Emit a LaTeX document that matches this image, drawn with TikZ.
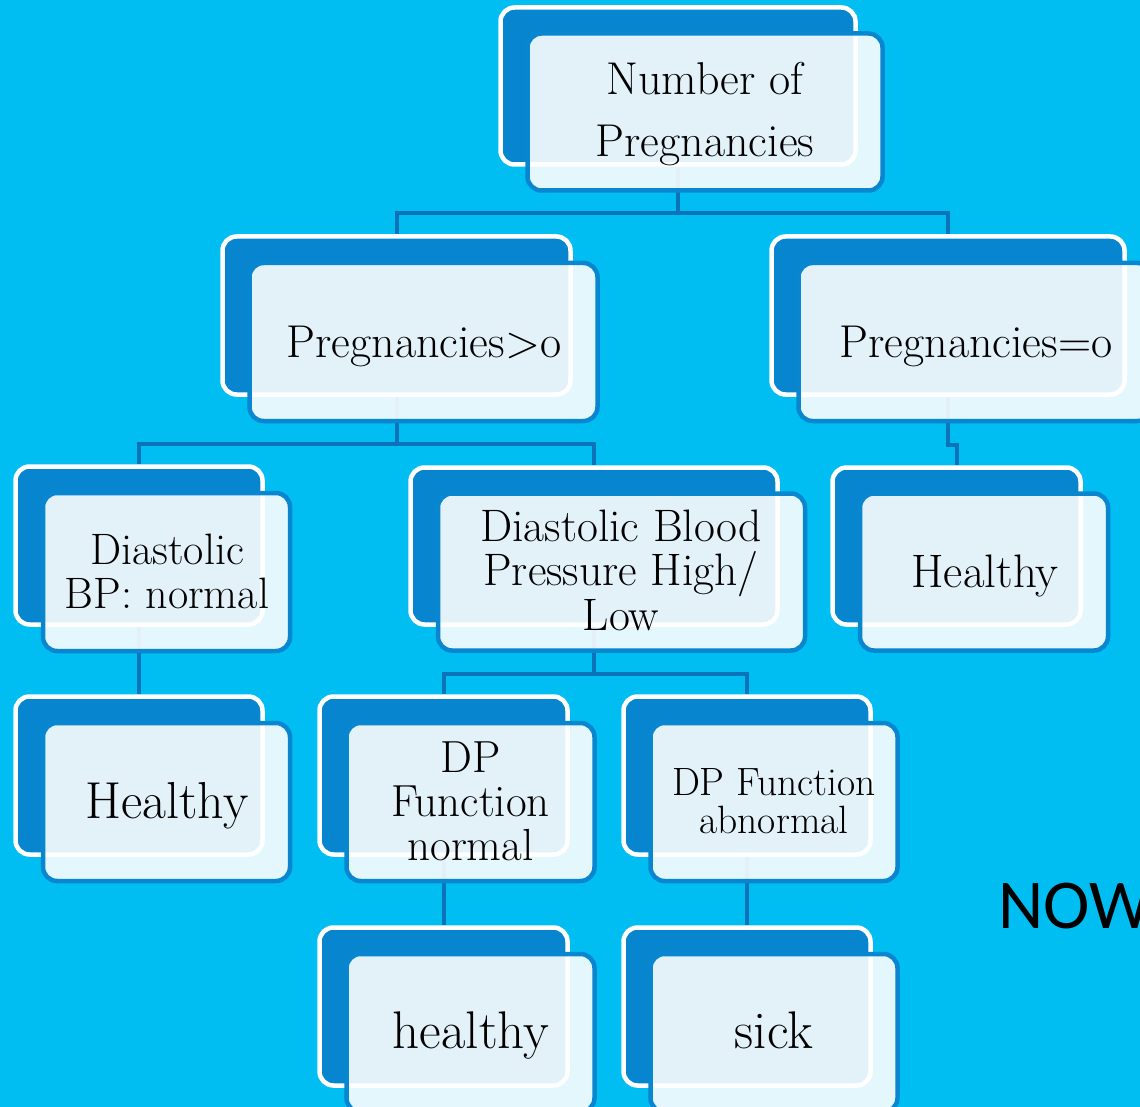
\documentclass[tikz,border=0pt]{standalone}
\usepackage{fontspec}
\newfontfamily\nowfont{Carlito}
\definecolor{bgcyan}{RGB}{0,189,242}
\definecolor{backblue}{RGB}{7,133,207}
\definecolor{frontline}{RGB}{8,134,208}
\definecolor{connblue}{RGB}{10,115,185}
\pgfdeclarelayer{bglayer}
\pgfdeclarelayer{connlayer}
\pgfsetlayers{bglayer,connlayer,main}
\begin{document}
\begin{tikzpicture}[x=1pt,y=-1pt,
  backbox/.style={draw=white, line width=4.5pt, fill=backblue, rounded corners=14pt, inner sep=0pt},
  frontbox/.style={draw=frontline, line width=4.5pt, fill=white, fill opacity=0.89, rounded corners=14pt, inner sep=0pt},
  conn/.style={draw=connblue, line width=4pt},
  txt/.style={anchor=base, align=center, inner sep=0pt, text=black}]
\useasboundingbox (0,0) rectangle (1140,1107);
\begin{pgfonlayer}{bglayer}
\fill[bgcyan] (0,0) rectangle (1140,1107);
\end{pgfonlayer}
\clip (0,0) rectangle (1140,1107);

% back boxes
\node[backbox, minimum width=355pt, minimum height=157pt] (b1) at (678,86) {};
\node[backbox, minimum width=348pt, minimum height=158pt] (b2) at (396.5,315.5) {};
\node[backbox, minimum width=353pt, minimum height=158pt] (b3) at (948,315.5) {};
\node[backbox, minimum width=247pt, minimum height=158pt] (b4) at (139,545.5) {};
\node[backbox, minimum width=367pt, minimum height=157pt] (b5) at (594,546) {};
\node[backbox, minimum width=248pt, minimum height=157pt] (b6) at (956.5,546) {};
\node[backbox, minimum width=247pt, minimum height=158pt] (b7) at (139,775.5) {};
\node[backbox, minimum width=248pt, minimum height=158pt] (b8) at (443.5,775.5) {};
\node[backbox, minimum width=247pt, minimum height=158pt] (b9) at (747,775.5) {};
\node[backbox, minimum width=248pt, minimum height=158pt] (b10) at (443.5,1006.5) {};
\node[backbox, minimum width=247pt, minimum height=158pt] (b11) at (747,1006.5) {};

% front boxes
\node[frontbox, minimum width=355pt, minimum height=157pt] (f1) at (705,112) {};
\node[frontbox, minimum width=348pt, minimum height=158pt] (f2) at (423.5,342) {};
\node[frontbox, minimum width=353pt, minimum height=158pt] (f3) at (975,342) {};
\node[frontbox, minimum width=247pt, minimum height=158pt] (f4) at (166.5,572) {};
\node[frontbox, minimum width=367pt, minimum height=157pt] (f5) at (621.5,572) {};
\node[frontbox, minimum width=248pt, minimum height=157pt] (f6) at (984,572) {};
\node[frontbox, minimum width=247pt, minimum height=158pt] (f7) at (166.5,802) {};
\node[frontbox, minimum width=248pt, minimum height=158pt] (f8) at (470.5,802) {};
\node[frontbox, minimum width=247pt, minimum height=158pt] (f9) at (774,802) {};
\node[frontbox, minimum width=248pt, minimum height=158pt] (f10) at (470.5,1033) {};
\node[frontbox, minimum width=247pt, minimum height=158pt] (f11) at (774,1033) {};

% texts (anchor base = baseline of the last line)
\node[txt, font=\fontsize{46}{62}\selectfont] (t1) at (705,157) {Number of\\Pregnancies};
\node[txt, font=\fontsize{46}{48}\selectfont] (t2) at (424,357) {Pregnancies>o};
\node[txt, font=\fontsize{46}{48}\selectfont] (t3) at (976,357) {Pregnancies=o};
\node[txt, font=\fontsize{44}{44}\selectfont] (t4) at (167,608) {Diastolic\\BP: normal};
\node[txt, font=\fontsize{45.5}{44.5}\selectfont] (t5) at (621,630) {Diastolic Blood\\Pressure High/\\Low};
\node[txt, font=\fontsize{47}{48}\selectfont] (t6) at (985,587) {Healthy};
\node[txt, font=\fontsize{52}{54}\selectfont] (t7) at (167,818) {Healthy};
\node[txt, font=\fontsize{45}{44}\selectfont] (t8) at (470.5,860) {DP\\Function\\normal};
\node[txt, font=\fontsize{39.5}{38}\selectfont] (t9) at (774,833) {DP Function\\abnormal};
\node[txt, font=\fontsize{53}{54}\selectfont] (t10) at (471,1048) {healthy};
\node[txt, font=\fontsize{53}{54}\selectfont] (t11) at (774,1048) {sick};
\node[anchor=base west, inner sep=0pt, font=\nowfont\fontsize{70}{72}\selectfont] (now) at (998,928) {NOW};

% connectors (behind the boxes)
\begin{pgfonlayer}{connlayer}
\draw[conn] (b1.south) -- (b1.south |- 0,213) -| (b2.north);
\draw[conn] (b1.south |- 0,213) -| (b3.north);
\draw[conn] (b2.south) -- (b2.south |- 0,444) -| (b4.north);
\draw[conn] (b2.south |- 0,444) -| (b5.north);
\draw[conn] (b3.south) -- (b3.south |- 0,445) -| (b6.north);
\draw[conn] (b4.south) -- (b7.north);
\draw[conn] (b5.south) -- (b5.south |- 0,674) -| (b8.north);
\draw[conn] (b5.south |- 0,674) -| (b9.north);
\draw[conn] (b8.south) -- (b10.north);
\draw[conn] (b9.south) -- (b11.north);
\end{pgfonlayer}
\end{tikzpicture}
\end{document}
